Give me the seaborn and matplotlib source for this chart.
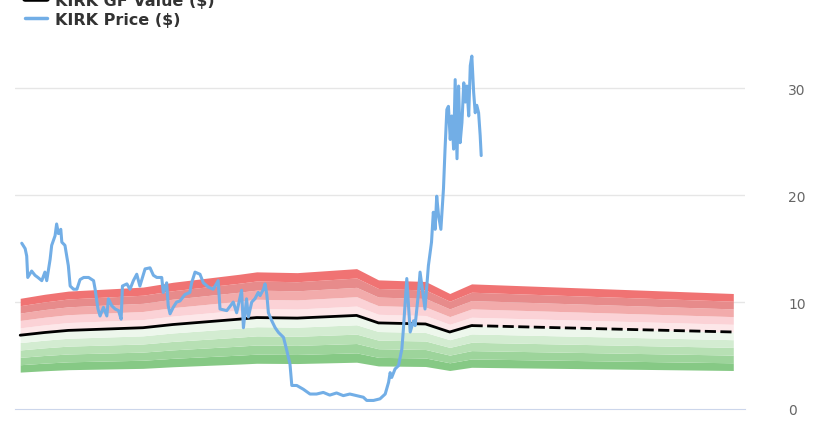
import matplotlib
matplotlib.use("Agg")
import matplotlib.pyplot as plt
import matplotlib.dates as mdates
from matplotlib.lines import Line2D
import pandas as pd
import seaborn as sns

# GF Value (solid history) and projection (dashed)
gf_dates = ["2016-07-31", "2016-11-01", "2017-02-01", "2017-11-15", "2018-03-10",
            "2018-11-20", "2019-01-26", "2019-07-01", "2020-02-14", "2020-05-08",
            "2020-11-05", "2021-02-06", "2021-05-01"]
gf_values = [6.9, 7.15, 7.35, 7.6, 7.9, 8.4, 8.55, 8.5, 8.75, 8.05, 7.95, 7.2, 7.8]
proj_dates = ["2021-05-01", "2024-02-01"]
proj_values = [7.8, 7.2]

# KIRK share price
price_dates = [
    "2016-08-06", "2016-08-19", "2016-08-25", "2016-08-29", "2016-09-13", "2016-09-26",
    "2016-10-07", "2016-10-22", "2016-11-03", "2016-11-10", "2016-11-23", "2016-11-29",
    "2016-12-12", "2016-12-18", "2016-12-25", "2017-01-03", "2017-01-07", "2017-01-19",
    "2017-02-01", "2017-02-08", "2017-02-21", "2017-03-06", "2017-03-18", "2017-04-01",
    "2017-04-20", "2017-05-09", "2017-05-15", "2017-05-26", "2017-06-03", "2017-06-16",
    "2017-06-29", "2017-07-05", "2017-07-18", "2017-07-31", "2017-08-13", "2017-08-23",
    "2017-08-28", "2017-09-14", "2017-09-26", "2017-10-09", "2017-10-22", "2017-11-03",
    "2017-11-23", "2017-12-12", "2017-12-25", "2018-01-07", "2018-01-26", "2018-02-01",
    "2018-02-14", "2018-02-20", "2018-02-27", "2018-03-11", "2018-03-24", "2018-04-06",
    "2018-04-25", "2018-05-14", "2018-05-21", "2018-06-03", "2018-06-22", "2018-07-05",
    "2018-07-24", "2018-08-12", "2018-08-31", "2018-09-07", "2018-10-03", "2018-10-28",
    "2018-11-10", "2018-11-29", "2018-12-06", "2018-12-18", "2018-12-25", "2019-01-07",
    "2019-01-19", "2019-02-01", "2019-02-08", "2019-02-21", "2019-02-27", "2019-03-06",
    "2019-03-12", "2019-03-25", "2019-04-07", "2019-04-20", "2019-05-09", "2019-05-22",
    "2019-06-03", "2019-06-10", "2019-06-29", "2019-07-24", "2019-08-19", "2019-09-13",
    "2019-10-09", "2019-11-03", "2019-11-29", "2019-12-25", "2020-01-19", "2020-02-14",
    "2020-03-11", "2020-03-24", "2020-04-19", "2020-05-14", "2020-06-03", "2020-06-16",
    "2020-06-22", "2020-06-28", "2020-07-11", "2020-07-24", "2020-08-06", "2020-08-12",
    "2020-08-25", "2020-09-07", "2020-09-20", "2020-09-26", "2020-10-09", "2020-10-15",
    "2020-11-03", "2020-11-16", "2020-11-28", "2020-12-05", "2020-12-12", "2020-12-18",
    "2020-12-25", "2021-01-03", "2021-01-13", "2021-01-19", "2021-01-26", "2021-02-01",
    "2021-02-08", "2021-02-14", "2021-02-21", "2021-02-27", "2021-03-06", "2021-03-12",
    "2021-03-18", "2021-03-25", "2021-04-01", "2021-04-07", "2021-04-13", "2021-04-20",
    "2021-04-26", "2021-05-02", "2021-05-09", "2021-05-15", "2021-05-21", "2021-05-28",
    "2021-06-03", "2021-06-07",
]
price_values = [
    15.5, 15.0, 14.3, 12.3, 12.9, 12.5,
    12.3, 12.0, 12.8, 12.0, 14.0, 15.3,
    16.2, 17.3, 16.4, 16.8, 15.6, 15.3,
    13.4, 11.5, 11.2, 11.2, 12.1, 12.3,
    12.3, 12.0, 11.2, 9.35, 8.7, 9.5,
    8.7, 10.3, 9.65, 9.35, 9.2, 8.4,
    11.5, 11.7, 11.2, 12.0, 12.6, 11.5,
    13.1, 13.2, 12.5, 12.3, 12.3, 10.9,
    11.8, 9.65, 8.9, 9.5, 10.0, 10.1,
    10.7, 10.9, 11.8, 12.8, 12.6, 11.8,
    11.4, 11.2, 12.0, 9.35, 9.2, 10.0,
    9.0, 11.1, 7.6, 10.3, 8.6, 10.0,
    10.3, 10.9, 10.6, 11.2, 11.7, 10.7,
    9.0, 8.25, 7.6, 7.15, 6.7, 5.45,
    4.2, 2.2, 2.2, 1.85, 1.4, 1.4,
    1.55, 1.3, 1.5, 1.25, 1.4, 1.25,
    1.1, 0.8, 0.8, 0.95, 1.4, 2.5,
    3.4, 2.95, 3.75, 4.05, 5.6, 7.5,
    12.2, 7.2, 8.25, 7.8, 10.9, 12.8,
    9.35, 13.4, 15.6, 18.4, 16.8, 19.9,
    18.1, 16.8, 20.6, 24.3, 28.0, 28.3,
    25.2, 27.4, 24.3, 30.8, 23.4, 30.2,
    24.9, 26.8, 30.5, 28.7, 30.2, 27.4,
    32.1, 33.0, 29.6, 27.7, 28.4, 27.7,
    25.6, 23.7,
]

# valuation bands as multiples of GF Value, bottom to top
band_edges = [0.5, 0.6, 0.7, 0.8, 0.9, 1.0, 1.1, 1.2, 1.3, 1.4, 1.5]
band_colors = ["#86c985", "#9dd49b", "#b7e0b4", "#d3ecd1", "#edf7ec",
               "#fde7e9", "#fbd2d6", "#f2abab", "#e78b8b", "#f07373"]

sns.set_style("white")
plt.rcParams["font.family"] = ["DejaVu Sans"]

fig = plt.figure(figsize=(8.2, 4.27), dpi=100)
ax = fig.add_axes([15 / 820, 17 / 427, 730 / 820, 385 / 427])

gf = pd.DataFrame({"date": pd.to_datetime(gf_dates), "value": gf_values})
proj = pd.DataFrame({"date": pd.to_datetime(proj_dates), "value": proj_values})
price = pd.DataFrame({"date": pd.to_datetime(price_dates), "value": price_values})
allgf = pd.concat([gf, proj.iloc[1:]], ignore_index=True)

for lo, hi, c in zip(band_edges[:-1], band_edges[1:], band_colors):
    ax.fill_between(allgf["date"], allgf["value"] * lo, allgf["value"] * hi,
                    color=c, lw=0, zorder=1)

sns.lineplot(data=gf, x="date", y="value", color="black", lw=2, ax=ax, zorder=3)
sns.lineplot(data=proj, x="date", y="value", color="black", lw=2, ax=ax,
             zorder=3, dashes=False, linestyle=(0, (4, 1.6)))
sns.lineplot(data=price, x="date", y="value", color="#72aee6", lw=2.2, ax=ax, zorder=4)

ax.set_xlim(pd.Timestamp("2016-07-11"), pd.Timestamp("2024-03-17"))
ax.set_ylim(0, 36)
ax.set_xlabel("")
ax.set_ylabel("")

ax.xaxis.set_major_locator(mdates.YearLocator())
ax.xaxis.set_major_formatter(mdates.DateFormatter("%Y"))
ax.set_yticks([0, 10, 20, 30])
ax.yaxis.tick_right()
ax.tick_params(axis="y", length=0, pad=31, labelsize=10, labelcolor="#666666")
ax.tick_params(axis="x", length=6, width=1, color="#ccd6eb", pad=6,
               labelsize=10, labelcolor="#666666", direction="out")
ax.grid(axis="y", color="#e6e6e6", lw=1)
ax.grid(axis="x", visible=False)
for side in ["top", "left", "right"]:
    ax.spines[side].set_visible(False)
ax.spines["bottom"].set_color("#ccd6eb")
ax.set_axisbelow(True)
# hide the gridline at 0, axis line sits there
ax.get_ygridlines()[0].set_visible(False)

handles = [Line2D([], [], color="black", lw=4), Line2D([], [], color="#72aee6", lw=2.5)]
labels = ["KIRK GF Value ($)", "KIRK Price ($)"]
leg = fig.legend(handles, labels, loc="upper left", bbox_to_anchor=(25 / 820, 1.015),
                 frameon=False, borderpad=0, borderaxespad=0, handlelength=1.4,
                 handletextpad=0.45, labelspacing=0.25,
                 prop={"weight": "bold", "size": 11.5})
for t in leg.get_texts():
    t.set_color("#333333")

fig.savefig("out.png", dpi=100)
